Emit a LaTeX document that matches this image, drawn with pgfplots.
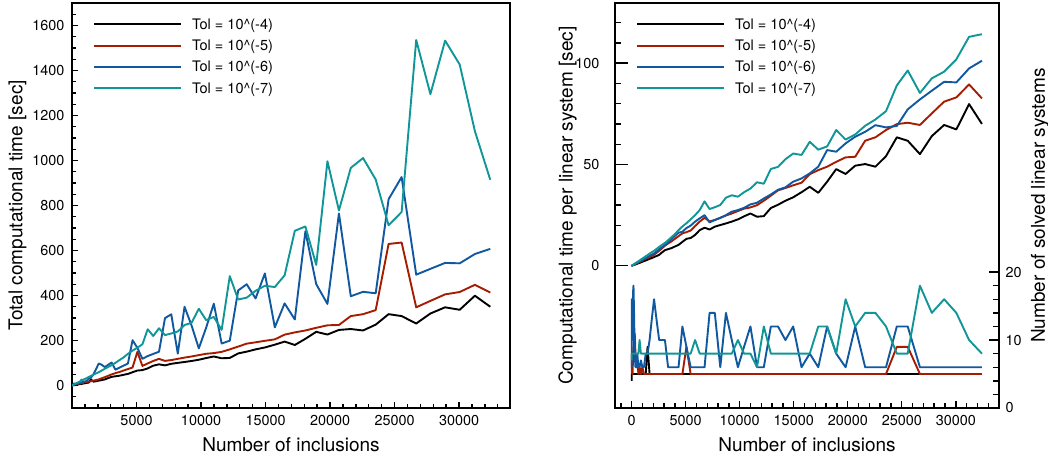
\documentclass[border=0pt]{standalone}
\usepackage{fontspec}
\setmainfont{TeX Gyre Heros}
\usepackage{pgfplots}
\usepackage{pgfplotstable}
\pgfplotsset{compat=1.18}

\definecolor{cblack}{RGB}{0,0,0}
\definecolor{cred}{RGB}{166,28,0}
\definecolor{cblue}{RGB}{16,88,160}
\definecolor{cteal}{RGB}{16,150,150}

% total computational time
\pgfplotstableread{
x b r u t
1 0 0 0 0
3 0 0 0 0
10 0 0 0 0
21 0.5 0.8 1.6 0.8
37 0.5 0.6 1.2 0.8
59 0.5 1.4 2.0 1.6
87 1.0 1.0 4.2 2.4
123 1.5 2.4 6.8 3.2
166 1.5 3.6 9.0 4.8
218 2.0 6.6 8.4 6.4
279 2.5 7.7 6.4 8.0
349 3.5 7.2 6.0 10.4
428 4.0 6.6 7.8 12.0
518 5.0 9.1 12.0 15.2
619 6.0 8.0 10.8 17.6
730 7.0 11.4 13.2 26.0
854 8.5 11.0 17.5 24.8
988 10.0 15.6 17.4 28.8
1136 11.5 15.0 20.4 32.8
1296 13.0 17.0 30.4 37.6
1469 27.0 19.0 34.4 42.4
1655 17.0 21.5 49.0 48.0
1856 19.0 24.0 71.5 53.6
2070 21.5 27.0 97.6 59.2
2299 24.0 32.0 92.3 66.4
2543 27.0 37.0 82.0 74.4
2802 33.0 43.0 92.0 82.4
3077 38.5 49.5 102.0 90.4
3368 41.0 55.0 70.2 100.8
3674 43.5 60.0 79.2 112.8
3997 47.5 66.5 88.2 124.8
4336 51.5 73.0 97.8 140.8
4693 59.0 80.0 201.6 155.2
5067 66.5 149.4 167.4 168.0
5458 68.5 87.0 118.8 183.2
5868 76.0 98.0 130.8 250.0
6296 88.0 109.0 140.4 220.0
6743 94.0 118.5 150.0 254.4
7209 89.5 109.5 299.6 224.0
7694 96.5 113.0 316.4 231.2
8199 100.5 118.5 141.6 240.0
8723 104.5 124.0 350.0 268.8
9265 109.0 129.0 267.0 278.4
9830 114.5 135.0 165.0 341.0
10400 122.0 141.0 257.4 290.4
10990 129.0 144.0 363.6 304.8
11600 121.0 149.5 186.6 247.2
12230 122.5 160.5 199.2 486.0
12880 142.5 173.0 422.4 382.4
13540 150.5 186.0 450.0 390.4
14230 160.5 192.0 387.0 420.8
14950 169.0 198.5 498.0 443.2
15720 181.5 205.0 258.6 437.6
16480 195.0 226.0 364.8 489.6
17270 180.0 236.0 293.4 687.6
18090 207.5 244.5 685.2 706.8
18930 238.5 256.5 450.4 536.0
19800 226.5 267.5 362.4 996.8
20690 247.0 269.0 764.4 777.6
21610 251.0 308.5 396.6 967.4
22560 244.5 317.0 416.4 1010.8
23540 270.5 335.0 409.8 915.6
24540 317.0 629.1 828.0 712.0
25550 308.5 635.4 926.4 771.2
26680 275.5 347.5 492.6 1535.4
27780 320.0 376.0 518.4 1295.0
28920 347.5 405.0 544.8 1532.8
30050 336.5 415.5 543.0 1426.6
31230 399.0 447.5 584.4 1130.0
32420 350.0 413.0 607.2 914.4
}\tot

% computational time per linear system
\pgfplotstableread{
x b r u t
1 0 0 0 0
3 0 0 0 0
10 0 0 0 0
21 0.1 0.1 0.1 0.1
37 0.1 0.1 0.1 0.1
59 0.1 0.2 0.2 0.2
87 0.2 0.2 0.3 0.3
123 0.3 0.3 0.4 0.4
166 0.3 0.4 0.5 0.6
218 0.4 0.6 0.6 0.8
279 0.5 0.7 0.8 1.0
349 0.7 0.9 1.0 1.3
428 0.8 1.1 1.3 1.5
518 1.0 1.3 1.5 1.9
619 1.2 1.6 1.8 2.2
730 1.4 1.9 2.2 2.6
854 1.7 2.2 2.5 3.1
988 2.0 2.6 2.9 3.6
1136 2.3 3.0 3.4 4.1
1296 2.6 3.4 3.8 4.7
1469 3.0 3.8 4.3 5.3
1655 3.4 4.3 4.9 6.0
1856 3.8 4.8 5.5 6.7
2070 4.3 5.4 6.1 7.4
2299 4.8 6.4 7.1 8.3
2543 5.4 7.4 8.2 9.3
2802 6.6 8.6 9.2 10.3
3077 7.7 9.9 10.2 11.3
3368 8.2 11.0 11.7 12.6
3674 8.7 12.0 13.2 14.1
3997 9.5 13.3 14.7 15.6
4336 10.3 14.6 16.3 17.6
4693 11.8 16.0 16.8 19.4
5067 13.3 16.6 18.6 21.0
5458 13.7 17.4 19.8 22.9
5868 15.2 19.6 21.8 25.0
6296 17.6 21.8 23.4 27.5
6743 18.8 23.7 25.0 31.8
7209 17.9 21.9 21.4 28.0
7694 19.3 22.6 22.6 28.9
8199 20.1 23.7 23.6 30.0
8723 20.9 24.8 25.0 33.6
9265 21.8 25.8 26.7 34.8
9830 22.9 27.0 27.5 34.1
10400 24.4 28.2 28.6 36.3
10990 25.8 28.8 30.3 38.1
11600 24.2 29.9 31.1 41.2
12230 24.5 32.1 33.2 40.5
12880 28.5 34.6 35.2 47.8
13540 30.1 37.2 37.5 48.8
14230 32.1 38.4 38.7 52.6
14950 33.8 39.7 41.5 55.4
15720 36.3 41.0 43.1 54.7
16480 39.0 45.2 45.6 61.2
17270 36.0 47.2 48.9 57.3
18090 41.5 48.9 57.1 58.9
18930 47.7 51.3 56.3 67.0
19800 45.3 53.5 60.4 62.3
20690 49.4 53.8 63.7 64.8
21610 50.2 61.7 66.1 69.1
22560 48.9 63.4 69.4 72.2
23540 54.1 67.0 68.3 76.3
24540 63.4 69.9 69.0 89.0
25550 61.7 70.6 77.2 96.4
26680 55.1 69.5 82.1 85.3
27780 64.0 75.2 86.4 92.5
28920 69.5 81.0 90.8 95.8
30050 67.3 83.1 90.5 101.9
31230 79.8 89.5 97.4 113.0
32420 70.0 82.6 101.2 114.3
}\per

% number of solved linear systems
\pgfplotstableread{
x b r u t
1 4 5 6 7
3 5 7 14 8
10 5 6 16 8
21 5 8 16 8
37 5 6 12 8
59 5 7 10 8
87 5 5 14 8
123 5 8 17 8
166 5 9 18 8
218 5 11 14 8
279 5 11 8 8
349 5 8 6 8
428 5 6 6 8
518 5 7 8 8
619 5 5 6 8
730 5 6 6 10
854 5 5 7 8
988 5 6 6 8
1136 5 5 6 8
1296 5 5 8 8
1469 9 5 8 8
1655 5 5 10 8
1856 5 5 13 8
2070 5 5 16 8
2299 5 5 13 8
2543 5 5 10 8
2802 5 5 10 8
3077 5 5 10 8
3368 5 5 6 8
3674 5 5 6 8
3997 5 5 6 8
4336 5 5 6 8
4693 5 5 12 8
5067 5 9 9 8
5458 5 5 6 8
5868 5 5 6 10
6296 5 5 6 8
6743 5 5 6 8
7209 5 5 14 8
7694 5 5 14 8
8199 5 5 6 8
8723 5 5 14 8
9265 5 5 10 8
9830 5 5 6 10
10400 5 5 9 8
10990 5 5 12 8
11600 5 5 6 6
12230 5 5 6 12
12880 5 5 12 8
13540 5 5 12 8
14230 5 5 10 8
14950 5 5 12 8
15720 5 5 6 8
16480 5 5 8 8
17270 5 5 6 12
18090 5 5 12 12
18930 5 5 8 8
19800 5 5 6 16
20690 5 5 12 12
21610 5 5 6 14
22560 5 5 6 14
23540 5 5 6 12
24540 5 9 12 8
25550 5 9 12 8
26680 5 5 6 18
27780 5 5 6 14
28920 5 5 6 16
30050 5 5 6 14
31230 5 5 6 10
32420 5 5 6 8
}\cnt

\pgfplotsset{
  base/.style={
    scale only axis, anchor=south west, height=405pt,
    axis line style={line width=2.4pt},
    tick align=inside,
    every tick/.style={line width=1.4pt, black},
    major tick length=6pt, minor tick length=4pt,
    ticklabel style={font=\fontsize{14.4}{16}\selectfont},
    /pgf/number format/assume math mode=true,
    /pgf/number format/1000 sep={},
    scaled ticks=false,
    every axis x label/.style={at={(axis description cs:0.5,-0.0914)}, anchor=center, font=\fontsize{19}{22}\selectfont},
    every axis plot/.append style={line width=1.9pt, line join=round},
    legend image code/.code={\draw[##1] (0pt,0pt) -- (87pt,0pt);},
    legend style={draw=none, fill=none, anchor=north west, inner sep=0pt,
      row sep=8.4pt, column sep=10pt,
      font=\fontsize{14.5}{17}\selectfont,
      nodes={inner sep=0pt, text height=11.5pt, text depth=1.5pt},
      cells={anchor=west}},
  }
}

\begin{document}
\begin{tikzpicture}
\useasboundingbox (0,0) rectangle (1048pt,457pt);

% ---------- left plot ----------
\begin{axis}[base, at={(72pt,49pt)}, width=438pt,
  xmin=0, xmax=33950, ymin=-100, ymax=1700,
  xtick={5000,10000,...,30000},
  minor xtick={1000,2000,...,33000},
  ytick={0,200,...,1600},
  minor ytick={-50,0,...,1700},
  xtick pos=bottom, ytick pos=left,
  yticklabel style={xshift=-4pt},
  xticklabel style={yshift=-4pt},
  xlabel={Number of inclusions},
  ylabel={Total computational time [sec]},
  every axis y label/.style={at={(axis description cs:-0.1244,0.5)}, rotate=90, anchor=center, font=\fontsize{19}{22}\selectfont},
  legend style={at={(axis description cs:0.0479,0.9642)}},
]
\addplot[cblack] table[x=x,y=b]{\tot};
\addplot[cred] table[x=x,y=r]{\tot};
\addplot[cblue] table[x=x,y=u]{\tot};
\addplot[cteal] table[x=x,y=t]{\tot};
\legend{Tol = 10\textasciicircum(-4), Tol = 10\textasciicircum(-5), Tol = 10\textasciicircum(-6), Tol = 10\textasciicircum(-7)}
\end{axis}

% ---------- right plot: x axis ticks and label ----------
\begin{axis}[base, at={(615pt,49pt)}, width=384pt,
  xmin=-1545, xmax=34000, ymin=0, ymax=1,
  xtick={0,5000,...,30000},
  minor xtick={-1000,0,...,33000},
  ytick=\empty,
  xtick pos=bottom,
  major tick length=7pt, minor tick length=5pt,
  xticklabel style={yshift=-4pt},
  xlabel={Number of inclusions},
]
\end{axis}

% ---------- right plot, time per linear system ----------
\begin{axis}[base, at={(615pt,49pt)}, width=384pt,
  xmin=-1545, xmax=34000, ymin=-70.2, ymax=129.7,
  xtick=\empty,
  ytick={0,50,100},
  minor ytick={10,20,30,40,60,70,80,90,110,120},
  ytick pos=left,
  major tick length=13pt, minor tick length=6pt,
  yticklabel style={xshift=-12pt},
  ylabel={Computational time per linear system [sec]},
  every axis y label/.style={at={(axis description cs:-0.1237,0.5)}, rotate=90, anchor=center, font=\fontsize{19}{22}\selectfont},
  legend style={at={(axis description cs:0.0547,0.9642)}},
]
\addplot[cblack] table[x=x,y=b]{\per};
\addplot[cred] table[x=x,y=r]{\per};
\addplot[cblue] table[x=x,y=u]{\per};
\addplot[cteal] table[x=x,y=t]{\per};
\legend{Tol = 10\textasciicircum(-4), Tol = 10\textasciicircum(-5), Tol = 10\textasciicircum(-6), Tol = 10\textasciicircum(-7)}
\end{axis}

% ---------- right plot, number of solved systems ----------
\begin{axis}[base, at={(615pt,49pt)}, width=384pt,
  xmin=-1545, xmax=34000, ymin=0, ymax=59.6,
  axis x line=none, axis y line*=right,
  ytick={0,10,20},
  minor ytick={2,4,...,18},
  tick align=inside,
  major tick length=10pt, minor tick length=6pt,
  yticklabel style={xshift=3pt},
  ylabel={Number of solved linear systems},
  every axis y label/.style={at={(axis description cs:1.1068,0.5)}, rotate=90, anchor=center, font=\fontsize{19}{22}\selectfont},
]
\addplot[cblack] table[x=x,y=b]{\cnt};
\addplot[cred] table[x=x,y=r]{\cnt};
\addplot[cblue] table[x=x,y=u]{\cnt};
\addplot[cteal] table[x=x,y=t]{\cnt};
\end{axis}
\end{tikzpicture}
\end{document}
